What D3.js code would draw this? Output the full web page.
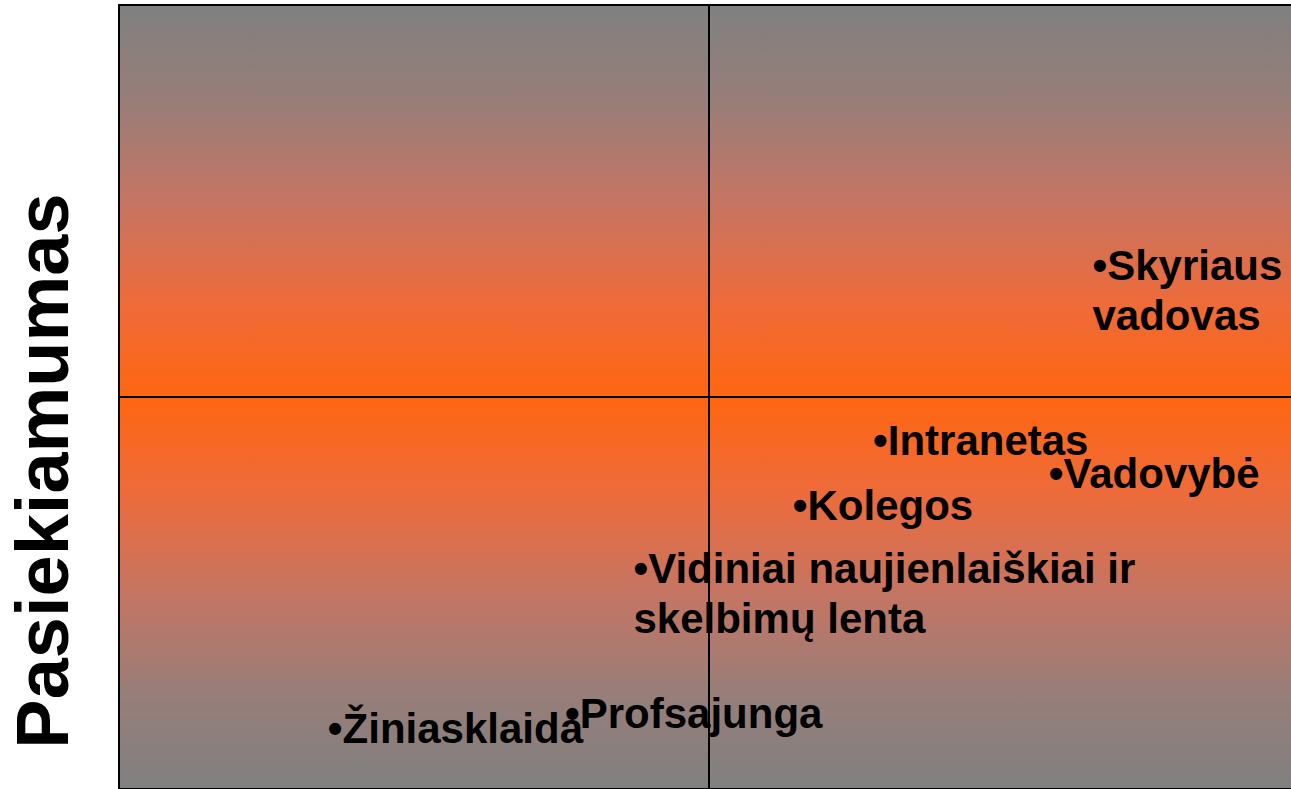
<!DOCTYPE html>
<html>
<head>
<meta charset="utf-8">
<script src="https://cdn.jsdelivr.net/npm/d3@7"></script>
<style>
  html, body { margin: 0; padding: 0; background: #ffffff; overflow: hidden; }
  svg { display: block; }
  text { font-family: "Liberation Sans", Arial, Helvetica, sans-serif; font-weight: bold; fill: #000; }
</style>
</head>
<body>
<svg id="chart" width="1291" height="789"></svg>
<script>
// ---- data ----
const labels = [
  ["•Skyriaus", "vadovas"],
  ["•Intranetas"],
  ["•Vadovybė"],
  ["•Kolegos"],
  ["•Vidiniai naujienlaiškiai ir", "skelbimų lenta"],
  ["•Profsajunga"],
  ["•Žiniasklaida"]
];
const xValues = [82.5, 63.9, 78.8, 57.1, 43.6, 37.8, 17.7];
const yValues = [64.9, 42.6, 38.4, 34.3, 26.3, 7.8, 5.9];
const xDomain = [0, 100];
const yDomain = [0, 100];
const midX = 50;
const midY = 50;
const yTitle = "Pasiekiamumas";

// ---- layout ----
const svg = d3.select("#chart");
const plot = { left: 119, top: 5, right: 1299, bottom: 789 };

const x = d3.scaleLinear().domain(xDomain).range([plot.left, plot.right]);
const y = d3.scaleLinear().domain(yDomain).range([plot.bottom, plot.top]);

// gradient background: grey -> orange -> grey
const defs = svg.append("defs");
const grad = defs.append("linearGradient")
  .attr("id", "bg").attr("x1", 0).attr("y1", 0).attr("x2", 0).attr("y2", 1);
const stops = [
  [0, "#808080"], [0.12, "#977e79"], [0.25, "#c57563"], [0.38, "#ee6b3a"], [0.5, "#ff6610"],
  [0.62, "#ee6b3a"], [0.75, "#c57563"], [0.88, "#977e79"], [1, "#808080"]
];
stops.forEach(s => grad.append("stop").attr("offset", s[0]).attr("stop-color", s[1]));

svg.append("rect")
  .attr("x", x(xDomain[0])).attr("y", y(yDomain[1]))
  .attr("width", x(xDomain[1]) - x(xDomain[0]))
  .attr("height", y(yDomain[0]) - y(yDomain[1]))
  .attr("fill", "url(#bg)")
  .attr("stroke", "#000").attr("stroke-width", 2);

// labels
const g = svg.append("g");
labels.forEach((lines, i) => {
  const t = g.append("text")
    .attr("x", x(xValues[i]))
    .attr("y", y(yValues[i]))
    .attr("font-size", 42);
  lines.forEach((ln, j) => {
    t.append("tspan")
      .attr("x", x(xValues[i]))
      .attr("dy", j === 0 ? 0 : 50)
      .text(ln);
  });
});

// quadrant lines (drawn above text)
svg.append("line")
  .attr("x1", x(midX)).attr("x2", x(midX))
  .attr("y1", y(yDomain[1])).attr("y2", y(yDomain[0]))
  .attr("stroke", "#000").attr("stroke-width", 2);
svg.append("line")
  .attr("x1", x(xDomain[0])).attr("x2", x(xDomain[1]))
  .attr("y1", y(midY)).attr("y2", y(midY))
  .attr("stroke", "#000").attr("stroke-width", 2);

// y-axis title
svg.append("text")
  .attr("transform", "translate(68,471) rotate(-90)")
  .attr("text-anchor", "middle")
  .attr("font-size", 74)
  .text(yTitle);
</script>
</body>
</html>
